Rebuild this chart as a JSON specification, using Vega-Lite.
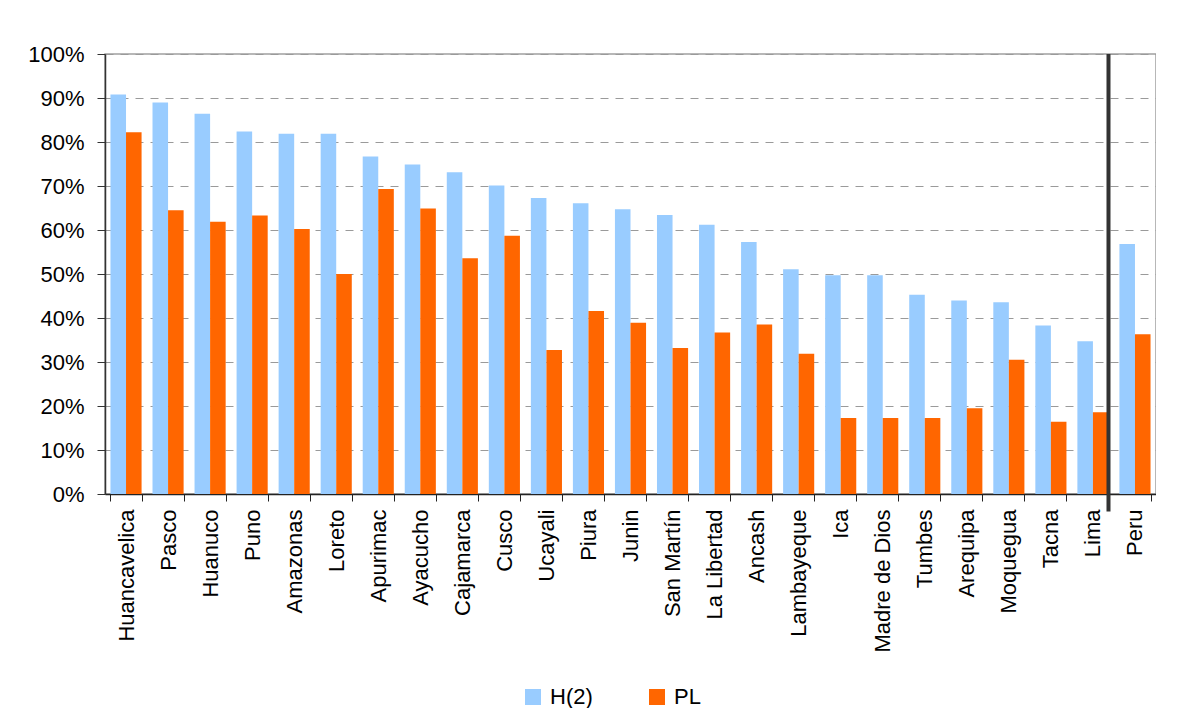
{
  "$schema": "https://vega.github.io/schema/vega-lite/v6.json",
  "width": 1051,
  "height": 440,
  "autosize": {"type": "pad"},
  "padding": {"left": 27, "top": 43, "right": 0, "bottom": 0},
  "background": "white",
  "config": {
    "view": {"stroke": "#a0a0a0", "strokeWidth": 1.5},
    "font": "Liberation Sans",
    "axis": {"labelFont": "Liberation Sans", "labelColor": "#000000", "labelFontSize": 22, "title": null}
  },
  "datasets": {
    "bars": [
      {"region": "Huancavelica", "series": "H(2)", "value": 0.908},
      {"region": "Huancavelica", "series": "PL", "value": 0.822},
      {"region": "Pasco", "series": "H(2)", "value": 0.890},
      {"region": "Pasco", "series": "PL", "value": 0.645},
      {"region": "Huanuco", "series": "H(2)", "value": 0.864},
      {"region": "Huanuco", "series": "PL", "value": 0.619},
      {"region": "Puno", "series": "H(2)", "value": 0.824},
      {"region": "Puno", "series": "PL", "value": 0.633},
      {"region": "Amazonas", "series": "H(2)", "value": 0.819},
      {"region": "Amazonas", "series": "PL", "value": 0.602},
      {"region": "Loreto", "series": "H(2)", "value": 0.819},
      {"region": "Loreto", "series": "PL", "value": 0.500},
      {"region": "Apurimac", "series": "H(2)", "value": 0.767},
      {"region": "Apurimac", "series": "PL", "value": 0.693},
      {"region": "Ayacucho", "series": "H(2)", "value": 0.749},
      {"region": "Ayacucho", "series": "PL", "value": 0.649},
      {"region": "Cajamarca", "series": "H(2)", "value": 0.731},
      {"region": "Cajamarca", "series": "PL", "value": 0.536},
      {"region": "Cusco", "series": "H(2)", "value": 0.701},
      {"region": "Cusco", "series": "PL", "value": 0.587},
      {"region": "Ucayali", "series": "H(2)", "value": 0.673},
      {"region": "Ucayali", "series": "PL", "value": 0.327},
      {"region": "Piura", "series": "H(2)", "value": 0.661},
      {"region": "Piura", "series": "PL", "value": 0.416},
      {"region": "Junin", "series": "H(2)", "value": 0.647},
      {"region": "Junin", "series": "PL", "value": 0.389},
      {"region": "San Martín", "series": "H(2)", "value": 0.634},
      {"region": "San Martín", "series": "PL", "value": 0.332},
      {"region": "La Libertad", "series": "H(2)", "value": 0.612},
      {"region": "La Libertad", "series": "PL", "value": 0.367},
      {"region": "Ancash", "series": "H(2)", "value": 0.573},
      {"region": "Ancash", "series": "PL", "value": 0.385},
      {"region": "Lambayeque", "series": "H(2)", "value": 0.511},
      {"region": "Lambayeque", "series": "PL", "value": 0.319},
      {"region": "Ica", "series": "H(2)", "value": 0.497},
      {"region": "Ica", "series": "PL", "value": 0.173},
      {"region": "Madre de Dios", "series": "H(2)", "value": 0.497},
      {"region": "Madre de Dios", "series": "PL", "value": 0.173},
      {"region": "Tumbes", "series": "H(2)", "value": 0.453},
      {"region": "Tumbes", "series": "PL", "value": 0.173},
      {"region": "Arequipa", "series": "H(2)", "value": 0.440},
      {"region": "Arequipa", "series": "PL", "value": 0.195},
      {"region": "Moquegua", "series": "H(2)", "value": 0.436},
      {"region": "Moquegua", "series": "PL", "value": 0.305},
      {"region": "Tacna", "series": "H(2)", "value": 0.383},
      {"region": "Tacna", "series": "PL", "value": 0.164},
      {"region": "Lima", "series": "H(2)", "value": 0.347},
      {"region": "Lima", "series": "PL", "value": 0.186},
      {"region": "Peru", "series": "H(2)", "value": 0.568},
      {"region": "Peru", "series": "PL", "value": 0.363}
    ]
  },
  "layer": [
    {
      "data": {"name": "bars"},
      "mark": {"type": "bar"},
      "encoding": {
        "x": {
          "field": "region",
          "type": "nominal",
          "sort": null,
          "scale": {
            "domain": ["Huancavelica", "Pasco", "Huanuco", "Puno", "Amazonas", "Loreto", "Apurimac", "Ayacucho", "Cajamarca", "Cusco", "Ucayali", "Piura", "Junin", "San Martín", "La Libertad", "Ancash", "Lambayeque", "Ica", "Madre de Dios", "Tumbes", "Arequipa", "Moquegua", "Tacna", "Lima", "Peru"],
            "paddingInner": 0.26,
            "paddingOuter": 0.13
          },
          "axis": {
            "tickBand": "extent",
            "tickSize": 7,
            "tickColor": "#222222",
            "domainColor": "#222222",
            "domainWidth": 1.5,
            "labelAngle": -90,
            "labelAlign": "right",
            "labelBaseline": "middle",
            "labelPadding": 8,
            "grid": false
          }
        },
        "y": {
          "field": "value",
          "type": "quantitative",
          "scale": {"domain": [0, 1], "nice": false},
          "axis": {
            "values": [0, 0.1, 0.2, 0.3, 0.4, 0.5, 0.6, 0.7, 0.8, 0.9, 1],
            "format": ".0%",
            "tickSize": 8,
            "tickColor": "#333333",
            "domainColor": "#333333",
            "domainWidth": 1.5,
            "labelPadding": 13,
            "grid": true,
            "gridColor": "#9a9a9a",
            "gridDash": [8, 7],
            "gridWidth": 1
          }
        },
        "xOffset": {"field": "series", "type": "nominal", "sort": ["H(2)", "PL"], "scale": {"paddingInner": 0, "paddingOuter": 0}},
        "color": {
          "field": "series",
          "type": "nominal",
          "scale": {"domain": ["H(2)", "PL"], "range": ["#99CCFF", "#FF6600"]},
          "legend": {
            "title": null,
            "orient": "none",
            "legendX": 417,
            "legendY": 632,
            "direction": "horizontal",
            "symbolType": "square",
            "symbolSize": 256,
            "symbolStrokeWidth": 0,
            "labelFont": "Liberation Sans",
            "labelFontSize": 22,
            "labelColor": "#000000",
            "labelOffset": 6,
            "columnPadding": 53,
            "padding": 0
          }
        }
      }
    },
    {
      "data": {"values": [{"divider": "Lima"}]},
      "mark": {"type": "rule", "color": "#333333", "strokeWidth": 4},
      "encoding": {
        "x": {"field": "divider", "type": "nominal", "bandPosition": 1},
        "y": {"datum": 1},
        "y2": {"datum": -0.04}
      }
    }
  ]
}
